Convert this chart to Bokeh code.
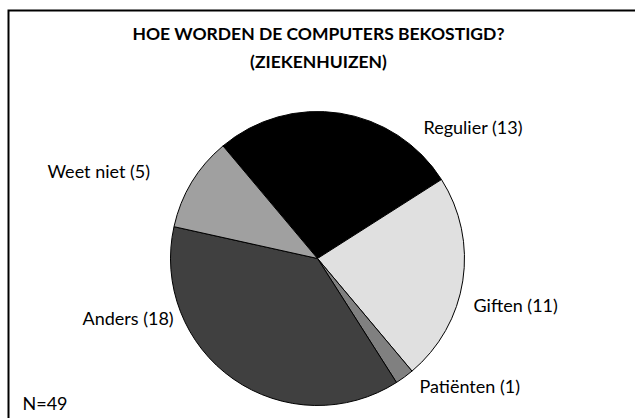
import numpy as np
from bokeh.plotting import figure
from bokeh.models import Range1d, ColumnDataSource
from bokeh.core.properties import value
from bokeh.embed import file_html
from bokeh.resources import INLINE

# data
categories = ["Regulier", "Giften", "Patiënten", "Anders", "Weet niet"]
counts = [13, 11, 1, 18, 5]
colors = ["#000000", "#e0e0e0", "#808080", "#404040", "#a0a0a0"]
title_lines = ["HOE WORDEN DE COMPUTERS BEKOSTIGD?", "(ZIEKENHUIZEN)"]
note = "N=49"

# layout (pixel-like data units)
W, H = 635, 418
cx, cy, r = 317, 160, 147
start_deg = 130.0
label_pos = {
    "Regulier": (423, 292),
    "Giften": (473, 114),
    "Patiënten": (419, 33),
    "Anders": (82, 101),
    "Weet niet": (47, 248),
}

total = sum(counts)
ang = [c / total * 2 * np.pi for c in counts]
cum = np.cumsum([0] + ang)
s0 = np.deg2rad(start_deg)
starts = [s0 - cum[i] for i in range(len(counts))]
ends = [s0 - cum[i + 1] for i in range(len(counts))]

src = ColumnDataSource(dict(
    cat=categories, start=starts, end=ends, color=colors,
    x=[cx] * len(counts), y=[cy] * len(counts),
))

p = figure(width=W, height=H, output_backend="svg", toolbar_location=None,
           x_range=Range1d(0, W), y_range=Range1d(0, H),
           x_axis_type=None, y_axis_type=None, min_border=0)
p.grid.visible = False
p.outline_line_color = None
p.background_fill_color = "white"
p.border_fill_color = "white"

# frame (left and top edges)
p.line(x=[8, 8, W + 10], y=[-10, H - 10, H - 10], line_color="black",
       line_width=2, line_join="miter")

p.wedge(x="x", y="y", radius=r, start_angle="start", end_angle="end",
        direction="clock", fill_color="color", line_color="black",
        line_width=1, source=src)

labels = [f"{c} ({n})" for c, n in zip(categories, counts)]
lx = [label_pos[c][0] for c in categories]
ly = [label_pos[c][1] for c in categories]
p.text(x=lx, y=ly, text=labels, text_font=value("Lato"), text_font_size="18px",
       text_align="left", text_baseline="middle", text_color="black")

p.text(x=[318, 318], y=[385, 357], text=title_lines,
       text_font=value("Lato"), text_font_size="17.5px", text_font_style="bold",
       text_align="center", text_baseline="middle", text_color="black")

p.text(x=[22], y=[16], text=[note], text_font=value("Lato"), text_font_size="18px",
       text_align="left", text_baseline="middle", text_color="black")

open("out.html", "w").write(file_html(p, INLINE))
